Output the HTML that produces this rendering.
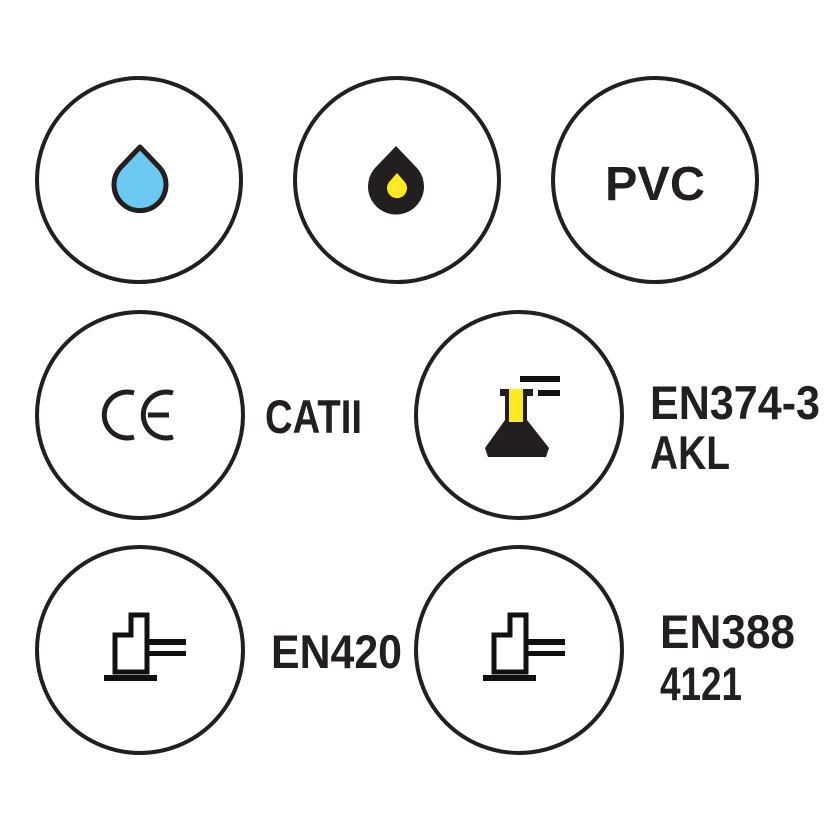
<!DOCTYPE html>
<html><head><style>html,body{margin:0;padding:0;background:#fff}svg{display:block}</style></head>
<body>
<svg width="833" height="833" viewBox="0 0 833 833" xmlns="http://www.w3.org/2000/svg">
<g fill="none" stroke="#231f20" stroke-width="4">
<circle cx="139" cy="180" r="102"/>
<circle cx="397" cy="180" r="102"/>
<circle cx="655" cy="180" r="102"/>
<circle cx="140" cy="415" r="103"/>
<circle cx="519" cy="415" r="103"/>
<circle cx="140" cy="650" r="103"/>
<circle cx="519" cy="650" r="103"/>
</g>
<!-- drops -->
<path d="M140 147 L120 168 A26 26 0 1 0 160 168 Z" fill="#6cc8f0" stroke="#231f20" stroke-width="5" stroke-linejoin="round"/>
<path d="M396 146 L375 168 A28 28 0 1 0 417 168 Z" fill="#231f20"/>
<path d="M397 173 L390 181 A10 10 0 1 0 404 181 Z" fill="#ffe824"/>
<g font-family="'Liberation Sans',sans-serif" font-weight="bold" fill="#231f20">
<text x="605" y="200" font-size="48" textLength="100" lengthAdjust="spacingAndGlyphs">PVC</text>
<text x="265" y="433" font-size="47" textLength="97" lengthAdjust="spacingAndGlyphs">CATII</text>
<text x="650" y="419" font-size="47" textLength="170" lengthAdjust="spacingAndGlyphs">EN374-3</text>
<text x="650" y="469" font-size="47" textLength="80" lengthAdjust="spacingAndGlyphs">AKL</text>
<text x="271" y="668" font-size="47" textLength="131" lengthAdjust="spacingAndGlyphs">EN420</text>
<text x="660" y="648" font-size="47" textLength="135" lengthAdjust="spacingAndGlyphs">EN388</text>
<text x="660" y="700" font-size="47" textLength="82" lengthAdjust="spacingAndGlyphs">4121</text>
</g>
<!-- CE -->
<g fill="none" stroke="#231f20" stroke-width="5">
<path d="M134 393 A23 23 0 1 0 134 437"/>
<path d="M173 393 A23 23 0 1 0 173 437"/>
<line x1="148" y1="415" x2="169" y2="415"/>
</g>
<!-- flask -->
<rect x="520" y="376" width="40" height="6" fill="#111"/>
<rect x="538" y="390" width="22" height="6" fill="#111"/>
<path d="M500 389 H533 V396 H527 V420 L549 448 L546 457 H488 L485 448 L505 420 V396 H500 Z" fill="#231f20"/>
<rect x="509" y="389" width="14" height="33" fill="#ffe824"/>
<!-- hands -->
<g id="h">
<path d="M115 672 V635 H131 V615 H147 V672 Z" fill="none" stroke="#111" stroke-width="5"/>
<rect x="148" y="639" width="38" height="6" fill="#111"/>
<rect x="148" y="651" width="38" height="5" fill="#111"/>
<rect x="104" y="675" width="53" height="6" fill="#111"/>
</g>
<use href="#h" x="379" y="0"/>
</svg>
</body></html>
